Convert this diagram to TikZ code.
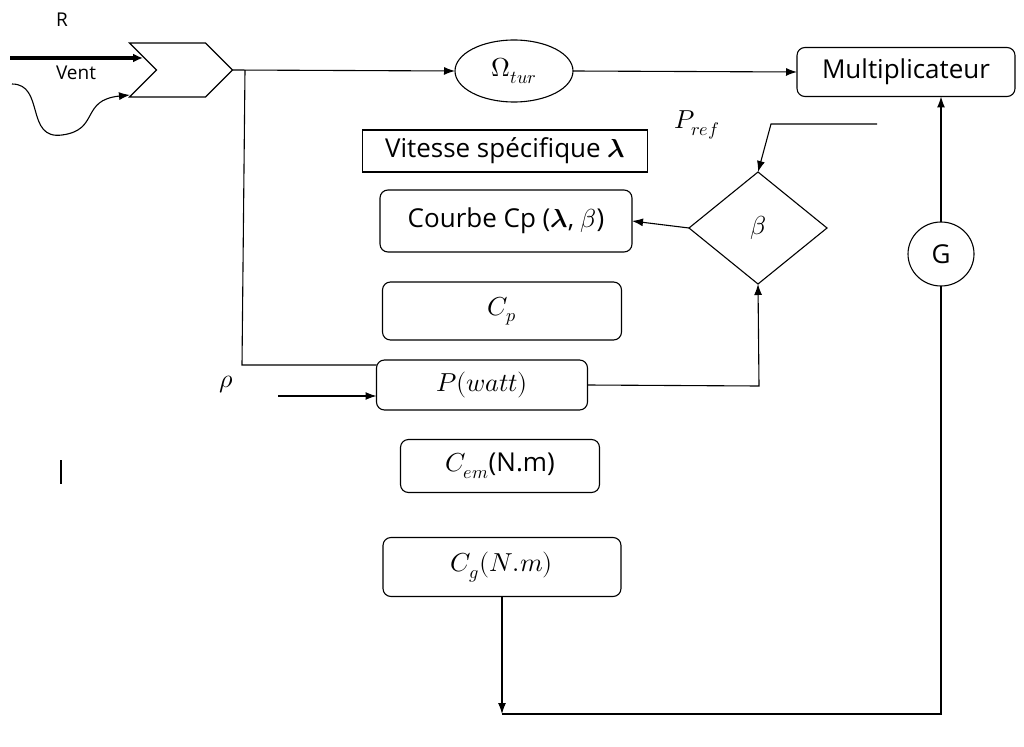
\documentclass[tikz,border=0pt]{standalone}
\usepackage{fontspec}
\usepackage{unicode-math}
\setmainfont{Open Sans}
\setmathfont{Latin Modern Math}[Scale=1.0]
\usepackage{tikz}
\usetikzlibrary{shapes,shapes.geometric,shapes.symbols,arrows.meta,calc,positioning}

\tikzset{
  bloc/.style={draw,rounded corners=8pt,inner sep=0pt,outer sep=0pt},
  boite/.style={draw,inner sep=0pt,outer sep=0pt},
  rond/.style={draw,ellipse,inner sep=0pt,outer sep=0pt},
  petit/.style={font=\fontsize{19}{22}\selectfont},
}

\begin{document}
\begin{tikzpicture}[x=1pt,y=-1pt,->,>={Latex[length=11pt,width=8pt]},
    line width=1.1pt,font=\fontsize{26}{30}\selectfont]
    \useasboundingbox (0,0) rectangle (1024,746);

    % turbine
    \node[signal,signal from=west,signal to=east,draw,inner sep=0pt,outer sep=0pt,
      minimum width=103,minimum height=54] (turb) at (181,70) {};
    \node[petit] (R) at (62,20) {R};
    \node[petit] (vent) at (76,73) {Vent};
    \coordinate (r0) at (10,58);
    \coordinate (r1) at (143,58);
    \draw[line width=4pt,-{Latex[length=10pt,width=9pt]}] (r0) -- (r1);
    \coordinate (w0) at (12,84);
    \coordinate (w1) at (130,95);
    \draw (w0) .. controls (45,84) and (25,140) .. (62,135)
          .. controls (100,130) and (80,100) .. (w1);

    % blocs
    \node[rond,minimum width=118,minimum height=62] (omega) at (514,71) {$\Omega_{tur}$};
    \node[bloc,minimum width=218,minimum height=49] (mult) at (906,72) {Multiplicateur};
    \node[boite,minimum width=285,minimum height=42] (vit) at (505,151) {Vitesse spécifique $\symbf{\lambda}$};
    \node[bloc,minimum width=252,minimum height=62] (courbe) at (506,221) {Courbe Cp ($\symbf{\lambda}$, $\beta$)};
    \node[diamond,draw,inner sep=0pt,outer sep=0pt,aspect=1.23,
      minimum width=138,minimum height=112] (beta) at (758,228) {$\beta$};
    \node[bloc,minimum width=239,minimum height=58] (cp) at (502,311) {$C_p$};
    \node[bloc,minimum width=211,minimum height=50] (pw) at (482,385) {$P(watt)$};
    \node[bloc,minimum width=199,minimum height=53] (cem) at (500,466) {$C_{em}$(N.m)};
    \node[bloc,minimum width=238,minimum height=59] (cg) at (502,567) {$C_g(N.m)$};
    \node[rond,minimum width=66,minimum height=64] (G) at (941,254) {G};
    \node (pref) at (697,125) {$P_{ref}$};
    \node (rho) at (226,385) {$\rho$};

    % liaisons
    \draw (turb.east) -- (omega.west);
    \draw (omega.east) -- (mult.west);
    \coordinate (br) at (245,70);
    \coordinate (br1) at (242,365);
    \draw[-] (br) -- (br1) -- (pw.west |- br1);
    \coordinate (pr0) at (877,124);
    \coordinate (pr1) at (771,124);
    \draw (pr0) -- (pr1) -- (beta.north);
    \draw (beta.west) -- (courbe.east);
    \coordinate (pb) at (759,386);
    \draw (pw.east) -- (pb) -- (beta.south);
    \coordinate (rh) at (278,396);
    \draw (rh) -- (pw.west |- rh);
    \draw (G.north) -- (G.north |- mult.south);
    \coordinate (bas) at (cg.south |- 0,714);
    \draw[-] (G.south) -- (G.south |- bas) -- (bas);
    \draw (cg.south) -- (bas);

    % curseur
    \coordinate (c0) at (61,460);
    \coordinate (c1) at (61,484);
    \draw[-,line width=2.5pt] (c0) -- (c1);
\end{tikzpicture}
\end{document}
